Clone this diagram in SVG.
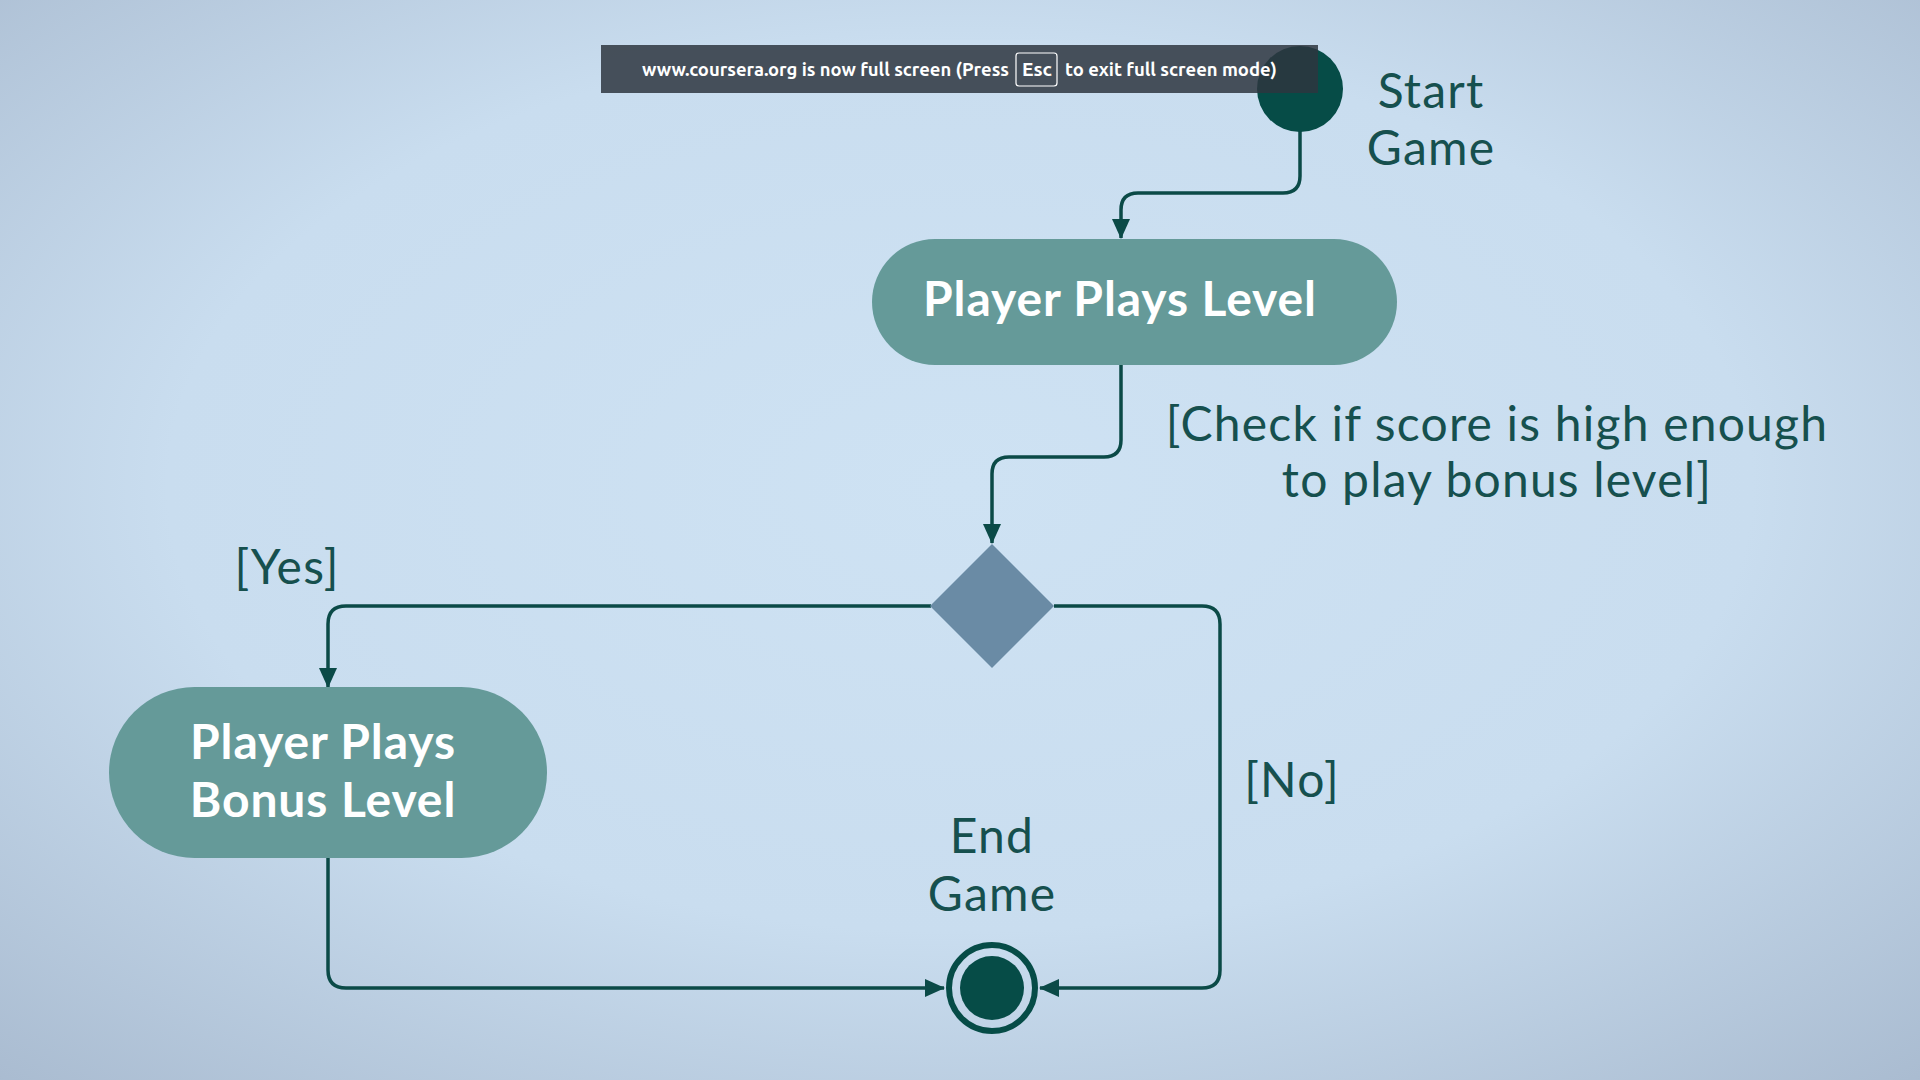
<svg xmlns="http://www.w3.org/2000/svg" width="1920" height="1080" viewBox="0 0 1920 1080">
  <defs>
    <radialGradient id="bg" cx="50%" cy="45%" r="75%">
      <stop offset="0" stop-color="#cee2f3"/>
      <stop offset="0.55" stop-color="#c9ddef"/>
      <stop offset="1" stop-color="#a9bbd0"/>
    </radialGradient>
    <marker id="arr" viewBox="0 0 20 20" refX="19" refY="10" markerWidth="20" markerHeight="20" markerUnits="userSpaceOnUse" orient="auto">
      <path d="M0,1 L20,10 L0,19 Z" fill="#0b4a47"/>
    </marker>
    <style>
      .conn { fill: none; stroke: #0b4a47; stroke-width: 3.5; marker-end: url(#arr); }
      .action { fill: #659a99; }
      .atext { font-family: Lato, "Noto Sans", sans-serif; font-weight: bold; font-size: 48px; letter-spacing: 0.9px; fill: #ffffff; text-anchor: middle; }
      .label { font-family: Lato, "Noto Sans", sans-serif; font-size: 48px; letter-spacing: 1.2px; fill: #16504e; text-anchor: middle; }
      .banner { font-family: Ubuntu, Lato, "DejaVu Sans", sans-serif; font-weight: bold; font-size: 18px; fill: #ffffff; }
    </style>
  </defs>
  <rect width="1920" height="1080" fill="url(#bg)"/>

  <g id="connectors">
    <path class="conn" d="M1300,130 V176 Q1300,193 1283,193 H1138 Q1121,193 1121,210 V238"/>
    <path class="conn" d="M1121,365 V440 Q1121,457 1104,457 H1009 Q992,457 992,474 V543"/>
    <path class="conn" d="M931,606 H346 Q328,606 328,624 V687"/>
    <path class="conn" d="M1054,606 H1202 Q1220,606 1220,624 V970 Q1220,988 1202,988 H1040"/>
    <path class="conn" d="M328,858 V970 Q328,988 346,988 H944"/>
  </g>

  <g id="start">
    <circle cx="1300" cy="89" r="43" fill="#064c47"/>
    <text class="label" x="1431" y="108">Start</text>
    <text class="label" x="1431" y="165">Game</text>
  </g>

  <g id="play-level">
    <rect class="action" x="872" y="239" width="525" height="126" rx="63"/>
    <text class="atext" x="1120" y="316">Player Plays Level</text>
  </g>

  <g id="check-label">
    <text class="label" x="1497" y="441">[Check if score is high enough</text>
    <text class="label" x="1497" y="497">to play bonus level]</text>
  </g>

  <g id="decision">
    <polygon points="992,544 1054,606 992,668 930,606" fill="#6a8ba5"/>
  </g>

  <g id="yes-label">
    <text class="label" x="287" y="584">[Yes]</text>
  </g>

  <g id="no-label">
    <text class="label" x="1292" y="797">[No]</text>
  </g>

  <g id="bonus-level">
    <rect class="action" x="109" y="687" width="438" height="171" rx="85.5"/>
    <text class="atext" x="323" y="759">Player Plays</text>
    <text class="atext" x="323" y="817">Bonus Level</text>
  </g>

  <g id="end">
    <text class="label" x="992" y="853">End</text>
    <text class="label" x="992" y="911">Game</text>
    <circle cx="992" cy="988" r="43" fill="none" stroke="#064c47" stroke-width="6"/>
    <circle cx="992" cy="988" r="32" fill="#064c47"/>
  </g>

  <g id="fullscreen-banner">
    <rect x="601" y="45" width="717" height="48" fill="#2e3640" fill-opacity="0.85"/>
    <text class="banner" x="642" y="76" textLength="367" lengthAdjust="spacingAndGlyphs">www.coursera.org is now full screen (Press</text>
    <rect x="1016" y="53" width="41" height="33" rx="3" fill="none" stroke="#ffffff" stroke-width="1.2"/>
    <text class="banner" x="1022" y="76" textLength="30" lengthAdjust="spacingAndGlyphs">Esc</text>
    <text class="banner" x="1065" y="76" textLength="212" lengthAdjust="spacingAndGlyphs">to exit full screen mode)</text>
  </g>
</svg>
